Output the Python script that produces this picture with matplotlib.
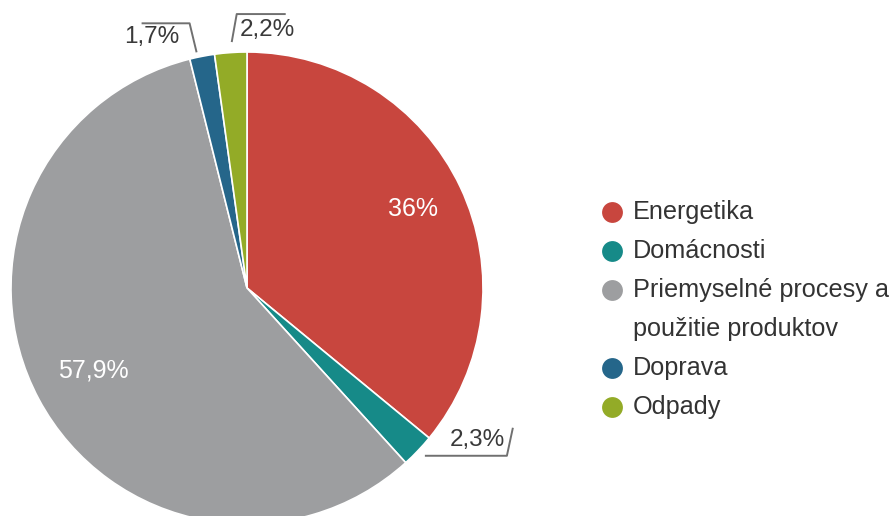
import numpy as np
import matplotlib.pyplot as plt

# podiel emisií podľa sektorov (%)
categories = ["Energetika", "Domácnosti", "Priemyselné procesy a\npoužitie produktov",
              "Doprava", "Odpady"]
values = [36.0, 2.3, 57.9, 1.7, 2.2]
value_labels = ["36%", "2,3%", "57,9%", "1,7%", "2,2%"]
colors = ["#c8463e", "#168a88", "#9d9ea0", "#25668a", "#93ab27"]

W, H = 893, 516
plt.rcParams['font.family'] = ['Liberation Sans', 'DejaVu Sans']

fig = plt.figure(figsize=(W / 100, H / 100), dpi=100)
ax = fig.add_axes([0, 0, 1, 1])

# pracujeme v pixeloch, y smeruje hore
cx, cy, R = 247, H - 288, 236
wedges, _ = ax.pie(values, colors=colors, startangle=90, counterclock=False,
                   radius=R, center=(cx, cy),
                   wedgeprops=dict(edgecolor='white', linewidth=1.2))
ax.set_xlim(0, W)
ax.set_ylim(0, H)
ax.set_aspect('auto')
ax.axis('off')

def edge_pt(w, r=1.0):
    a = np.deg2rad((w.theta1 + w.theta2) / 2)
    return cx + r * R * np.cos(a), cy + r * R * np.sin(a)

# popisky vo vnútri
inner = {0: 0.78, 2: 0.74}
for i, r in inner.items():
    x, y = edge_pt(wedges[i], r)
    ax.text(x, y, value_labels[i], color='white', fontsize=18,
            ha='center', va='center')

# popisky mimo s vodiacou čiarou (posuny v pixeloch, y dole)
outer = {
    1: ([(7, 5), (89, 5), (95, -23)], (59, -11)),
    3: ([(-5.5, -4), (-12.5, -33), (-60.5, -33)], (-50.5, -19)),
    4: ([(1, -10.5), (6, -38.5), (55, -38.5)], (37, -22.5)),
}
for i, (pts, tpos) in outer.items():
    x, y = edge_pt(wedges[i])
    xs = [x + p[0] for p in pts]
    ys = [y - p[1] for p in pts]
    ax.plot(xs, ys, color='#707070', lw=1.4, solid_capstyle='butt')
    ax.text(x + tpos[0], y - tpos[1], value_labels[i], color='#3a3a3a',
            fontsize=17.5, ha='center', va='center')

# legenda
ly = 212
for lab, col in zip(categories, colors):
    ax.plot(612, H - ly, 'o', ms=15, color=col, mec='none')
    for line in lab.split('\n'):
        ax.text(633, H - ly, line, fontsize=18.2, color='#333333',
                ha='left', va='center')
        ly += 39

fig.savefig('out.png', dpi=100)
